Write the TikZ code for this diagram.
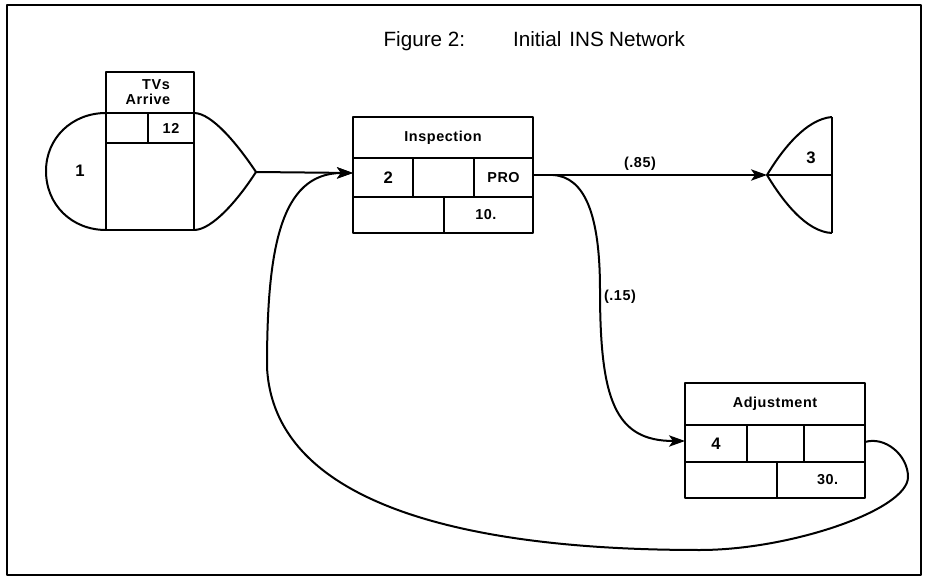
\documentclass[tikz,border=0pt]{standalone}
\usepackage{fontspec}
\setmainfont{Liberation Sans}
\newfontfamily\labfont[LetterSpace=4]{Liberation Sans}
\usetikzlibrary{arrows.meta}

% one rectangular cell of a node block: style, name, x1, y1, x2, y2, text
\newcommand\boxcell[7]{%
  \node[cell,#1,minimum width={(#5-#3)*0.75pt},minimum height={(#6-#4)*0.75pt},anchor=north west] (#2) at (#3,#4) {#7};}

\begin{document}
\begin{tikzpicture}[x=0.75pt,y=-0.75pt,line width=1.5pt,line join=round,
  cell/.style={draw,inner sep=0pt,outer sep=0pt,font=\labfont\bfseries\fontsize{10.8}{12}\selectfont},
  lab/.style={inner sep=0pt,font=\labfont\bfseries\fontsize{10.8}{12}\selectfont},
  num/.style={inner sep=0pt,font=\bfseries\fontsize{12.5}{14}\selectfont},
  flow/.style={-{Stealth[length=12pt,width=8.5pt,inset=3pt]}},
]
\useasboundingbox (0,0) rectangle (929,581);

% frame and title
\draw (7,5) rectangle (921,575);
\node[anchor=base east,inner sep=0pt,font=\fontsize{15.5}{17}\selectfont] (title) at (686,47)
  {Figure 2:\hspace{36pt}Initial\hspace{6pt}INS\hspace{4pt}Network};

% ---- node 1: arrivals (TVs Arrive)
\boxcell{}{n1title}{106}{72}{194}{113}{}
\node[lab] (tvs) at (156,85) {TVs};
\node[lab] (arrive) at (148,99.5) {Arrive};
\boxcell{}{n1a}{106}{113}{148}{143}{}
\boxcell{}{n1b}{148}{113}{194}{143}{12}
\boxcell{}{n1c}{106}{143}{194}{230}{}
\draw (106,113) .. controls (72,113) and (46,138) .. (46,171)
                .. controls (46,205) and (72,230) .. (106,230);
\draw (194,113) .. controls (212,113) and (238,145) .. (256,172)
                .. controls (238,200) and (212,230) .. (194,230);
\node[num] (n1) at (80,171) {1};
\coordinate (out1) at (256,172);

% ---- node 2: Inspection
\boxcell{}{n2title}{353}{117}{533}{158}{Inspection}
\boxcell{}{n2id}{353}{158}{413}{197}{\kern8pt\fontsize{12.5}{14}\selectfont 2}
\boxcell{}{n2mid}{413}{158}{474}{197}{}
\boxcell{}{n2pro}{474}{158}{533}{197}{PRO}
\boxcell{}{n2e}{353}{197}{444}{233}{}
\boxcell{}{n2t}{444}{197}{533}{233}{10.\kern4pt}
\coordinate (in2) at (353,173);
\coordinate (out2) at (533,175);
\coordinate (br2) at (553,175);

% ---- node 3: sink
\coordinate (pt3) at (767,175);
\draw (832,117) .. controls (806,119) and (782,150) .. (pt3)
                .. controls (782,200) and (806,232) .. (832,233);
\draw (pt3) -- (832,175);
\draw (832,117) -- (832,233);
\node[num] (n3) at (811,158) {3};

% ---- node 4: Adjustment
\boxcell{}{n4title}{685}{383}{865}{425}{Adjustment}
\boxcell{}{n4id}{685}{425}{747}{462}{\fontsize{12.5}{14}\selectfont 4}
\boxcell{}{n4mid}{747}{425}{804}{462}{}
\boxcell{}{n4r}{804}{425}{865}{462}{}
\boxcell{}{n4e}{685}{462}{777}{498}{}
\boxcell{}{n4t}{777}{462}{865}{498}{\kern10pt 30.}
\coordinate (in4) at (685,441);
\coordinate (out4) at (865,442);

% ---- connectors
\draw[flow] (out1) -- (in2);
\draw[flow] (out2) -- (pt3);
\node[lab] (p85) at (640,164) {(.85)};
\draw[flow] (br2) .. controls (585,177) and (600,215) .. (600,290)
                  .. controls (600,400) and (615,441) .. (in4);
\node[lab,anchor=west] (p15) at (603,297) {(.15)};
\draw[flow] (out4) .. controls (885,436) and (908,455) .. (908,477)
                   .. controls (908,510) and (790,550) .. (700,550)
                   .. controls (560,550) and (275,535) .. (267,367)
                   .. controls (267,250) and (280,173) .. (in2);
\end{tikzpicture}
\end{document}
